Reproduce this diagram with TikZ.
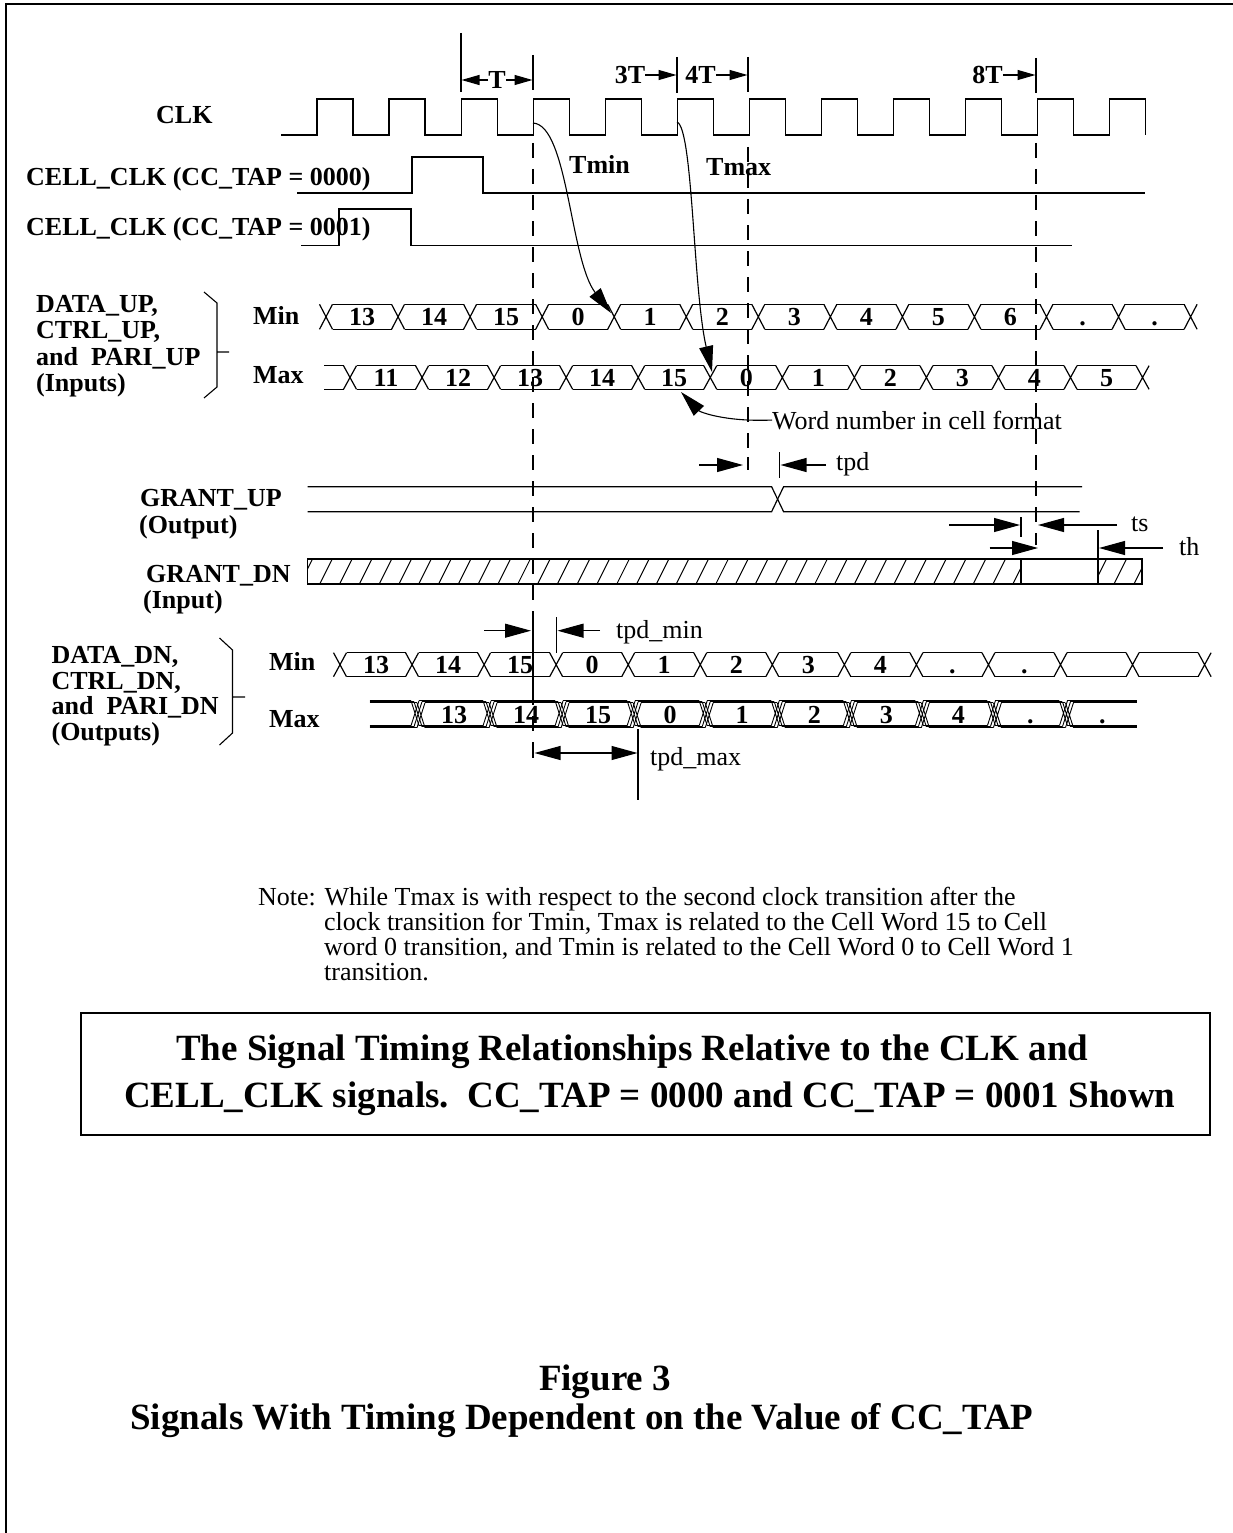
\documentclass[tikz,border=0pt]{standalone}
\usepackage{fontspec}
\setmainfont{Liberation Serif}
\usetikzlibrary{arrows.meta}
\begin{document}
\begin{tikzpicture}[x=1pt,y=-1pt,
  wave/.style={line width=1.2pt},
  thinwave/.style={line width=0.9pt},
  dashln/.style={line width=1.1pt, dash pattern=on 15pt off 11pt},
  solidln/.style={line width=1.1pt},
  bigarr/.style={line width=1.1pt,-{Triangle[length=26pt,width=14pt]}},
  smallarr/.style={line width=1.1pt,-{Triangle[length=18pt,width=10pt]}},
  lbl/.style={font=\fontsize{26}{28}\selectfont\bfseries, anchor=base west, inner sep=0pt},
  txt/.style={font=\fontsize{26}{28}\selectfont, anchor=base west, inner sep=0pt},
  num/.style={font=\fontsize{26}{28}\selectfont\bfseries, inner sep=0pt, text height=17.6pt, text depth=0pt},
  topmk/.style={font=\fontsize{26}{28}\selectfont\bfseries, inner sep=0pt, text height=17.2pt, text depth=0pt},
  ttl/.style={font=\fontsize{37}{40}\selectfont\bfseries, inner sep=0pt},
]
\useasboundingbox (0,0) rectangle (1233,1533);
% frame
\draw[line width=2.5pt] (6,1533) -- (6,4) -- (1233,4);

% ---------- top markers ----------
\draw[solidln] (461,33) -- (461,92);
\draw[solidln] (533,55) -- (533,90);
\draw[solidln] (677,57) -- (677,93);
\draw[solidln] (748,57) -- (748,92);
\draw[solidln] (1036,58) -- (1036,93);
\node[topmk] (tT) at (497,80) {T};
\draw[smallarr] (tT.west) -- (461.5,80);
\draw[smallarr] (tT.east) -- (532.5,80);
\node[topmk] (t3T) at (630,75) {3T};
\draw[smallarr] (t3T.east) -- (676.5,75);
\node[topmk] (t4T) at (700.5,75) {4T};
\draw[smallarr] (t4T.east) -- (747.5,75);
\node[topmk] (t8T) at (987.5,75) {8T};
\draw[smallarr] (t8T.east) -- (1035.5,75);

% ---------- CLK ----------
\node[lbl] (clk) at (156,124) {CLK};
\draw[wave] (281,135) foreach \k in {0,...,11}{ -- ({317+72.05*\k},135) -- ({317+72.05*\k},99) -- ({353+72.05*\k},99) -- ({353+72.05*\k},135)};

% ---------- CELL_CLK ----------
\node[lbl] (cc0) at (26,185.6) {CELL\_CLK (CC\_TAP = 0000)};
\draw[wave] (297,193) -- (412,193) -- (412,157) -- (483,157) -- (483,193) -- (1145,193);
\node[lbl] (cc1) at (26,235.6) {CELL\_CLK (CC\_TAP = 0001)};
\draw[wave] (301,245.7) -- (339,245.7) -- (339,209) -- (411,209) -- (411,245.7) -- (1071.5,245.7);

% ---------- dashed reference lines ----------
\draw[dashln] (533,143) -- (533,612);
\draw[solidln] (533,612) -- (533,690);
\draw[dashln] (533,690) -- (533,745);
\draw[solidln] (533,745) -- (533,758);
\draw[dashln] (748,147) -- (748,457);
\draw[solidln] (748,457) -- (748,470);
\draw[dashln] (1036,143) -- (1036,545);

\node[lbl] (tmin) at (569,174) {Tmin};
\node[lbl] (tmax) at (706,176) {Tmax};

% ---------- DATA_UP ----------
\node[lbl] (du1) at (36,312) {DATA\_UP,};
\node[lbl] (du2) at (36,338.5) {CTRL\_UP,};
\node[lbl] (du3) at (36,365) {and\ \ PARI\_UP};
\node[lbl] (du4) at (36,391.5) {(Inputs)};
\draw[solidln] (204,292) -- (217,303) -- (217,387) -- (204,398) (217,352) -- (229,352);
\node[lbl] (umin) at (253,324.6) {Min};
\node[lbl] (umax) at (253,383.6) {Max};

% Min row (up)
\foreach \k in {0,...,12}{
  \pgfmathsetmacro\t{326+72.05*\k}
  \draw[wave] ({\t-6.5},304.3) -- ({\t+6.5},329.3) ({\t-6.5},329.3) -- ({\t+6.5},304.3);
}
\foreach \k/\lab in {0/13,1/14,2/15,3/0,4/1,5/2,6/3,7/4,8/5,9/6,10/.,11/.}{
  \pgfmathsetmacro\a{326+72.05*\k+6.5}
  \pgfmathsetmacro\b{326+72.05*(\k+1)-6.5}
  \draw[wave] (\a,304.3) -- (\b,304.3) (\a,329.3) -- (\b,329.3);
  \node[num] (mu\k) at ({326+72.05*\k+36},316.8) {\lab};
}
% Max row (up)
\draw[wave] (324,365.7) -- (343.5,365.7) (324,389.3) -- (343.5,389.3);
\foreach \k in {0,...,11}{
  \pgfmathsetmacro\t{350+72.05*\k}
  \draw[wave] ({\t-6.5},365.7) -- ({\t+6.5},389.3) ({\t-6.5},389.3) -- ({\t+6.5},365.7);
}
\foreach \k/\lab in {0/11,1/12,2/13,3/14,4/15,5/0,6/1,7/2,8/3,9/4,10/5}{
  \pgfmathsetmacro\a{350+72.05*\k+6.5}
  \pgfmathsetmacro\b{350+72.05*(\k+1)-6.5}
  \draw[wave] (\a,365.7) -- (\b,365.7) (\a,389.3) -- (\b,389.3);
  \node[num] (xu\k) at ({350+72.05*\k+36},377.5) {\lab};
}

% Tmin / Tmax curves
\draw[bigarr] (533,123) .. controls (568,125) and (570,260) .. (611,313);
\draw[bigarr] (677,122) .. controls (693,128) and (693,290) .. (712,372);
\node[txt] (wn) at (772,429) {Word number in cell format};
\draw[bigarr] (wn.west) .. controls (725,422) and (700,412) .. (681,392);

% ---------- GRANT_UP ----------
\node[lbl] (gu1) at (140,506.6) {GRANT\_UP};
\node[lbl] (gu2) at (139,533.5) {(Output)};
\draw[wave] (307.6,486.7) -- (771.6,486.7) -- (783.6,511.7) -- (1079.6,511.7);
\draw[wave] (307.6,511.7) -- (771.6,511.7) -- (783.6,486.7) -- (1082,486.7);
\draw[bigarr] (699,465) -- (743,465);
\draw[solidln] (779.6,452) -- (779.6,478);
\draw[bigarr] (826,465) -- (780.5,465);
\node[txt] (tpd) at (836,470.7) {tpd};

% ---------- GRANT_DN ----------
\node[lbl] (gd1) at (146,582) {GRANT\_DN};
\node[lbl] (gd2) at (143,608.5) {(Input)};
\begin{scope}
  \clip (307.6,559) rectangle (1021,584);
  \foreach \x in {300,319.8,...,1040}{\draw[line width=1pt] (\x,584) -- ({\x+12.5},559);}
\end{scope}
\begin{scope}
  \clip (1098,559) rectangle (1142,584);
  \foreach \x in {1094,1114,...,1150}{\draw[line width=1pt] (\x,584) -- ({\x+12.5},559);}
\end{scope}
\draw[wave] (307.6,559) rectangle (1142,584);
\draw[wave] (1021,559) -- (1021,584) (1098,559) -- (1098,584);
\draw[bigarr] (949,525) -- (1020,525);
\draw[solidln] (1021,517) -- (1021,537);
\draw[bigarr] (1117,525) -- (1038,525);
\node[txt] (ts) at (1131,531.7) {ts};
\draw[bigarr] (989.6,548) -- (1038,548);
\draw[solidln] (1098,530) -- (1098,559);
\draw[bigarr] (1163,548) -- (1099,548);
\node[txt] (th) at (1179,555) {th};

% ---------- DATA_DN ----------
\node[lbl] (dd1) at (51.4,663.6) {DATA\_DN,};
\node[lbl] (dd2) at (51.4,689) {CTRL\_DN,};
\node[lbl] (dd3) at (51.4,714.6) {and\ \ PARI\_DN};
\node[lbl] (dd4) at (51.4,740) {(Outputs)};
\draw[solidln] (219.5,638) -- (232.5,650) -- (232.5,733) -- (219.5,745) (232.5,697) -- (245,697);
\node[lbl] (dmin) at (269,670.3) {Min};
\node[lbl] (dmax) at (269,727.6) {Max};

\draw[bigarr] (484,630.7) -- (531,630.7);
\draw[solidln] (556.7,617) -- (556.7,652.7);
\draw[bigarr] (600,630.7) -- (557.5,630.7);
\node[txt] (tpdmin) at (616,638.3) {tpd\_min};

% Min row (dn)
\foreach \k in {0,...,12}{
  \pgfmathsetmacro\t{340+72.05*\k}
  \draw[wave] ({\t-6.5},652.7) -- ({\t+6.5},676.7) ({\t-6.5},676.7) -- ({\t+6.5},652.7);
}
\foreach \k/\lab in {0/13,1/14,2/15,3/0,4/1,5/2,6/3,7/4,8/.,9/.,10/{},11/{}}{
  \pgfmathsetmacro\a{340+72.05*\k+6.5}
  \pgfmathsetmacro\b{340+72.05*(\k+1)-6.5}
  \draw[wave] (\a,652.7) -- (\b,652.7) (\a,676.7) -- (\b,676.7);
  \node[num] (md\k) at ({340+72.05*\k+36},664.7) {\lab};
}
% Max row (dn), triple transitions
\foreach \dx/\dy in {-3/-1,0/0,3/1}{
  \draw[thinwave] (369.7,{701.7+\dy}) -- ({418-4+\dx},{701.7+\dy}) (369.7,{726.7+\dy}) -- ({418-4+\dx},{726.7+\dy});
  \foreach \k in {0,...,9}{
    \pgfmathsetmacro\t{418+72.05*\k+\dx}
    \pgfmathsetmacro\b{ifthenelse(\k==9,1137,418+72.05*(\k+1)-4+\dx)}
    \draw[thinwave] ({\t-4},{701.7+\dy}) -- ({\t+4},{726.7+\dy}) ({\t-4},{726.7+\dy}) -- ({\t+4},{701.7+\dy});
    \draw[thinwave] ({\t+4},{701.7+\dy}) -- (\b,{701.7+\dy}) ({\t+4},{726.7+\dy}) -- (\b,{726.7+\dy});
  }
}
\foreach \k/\lab in {0/13,1/14,2/15,3/0,4/1,5/2,6/3,7/4,8/.,9/.}{
  \node[num] (xd\k) at ({418+72.05*\k+36},714.2) {\lab};
}

\draw[line width=1.1pt,{Triangle[length=26pt,width=14pt]}-{Triangle[length=26pt,width=14pt]}] (534.5,753) -- (637.5,753);
\draw[solidln] (638,729) -- (638,800);
\node[txt] (tpdmax) at (650,765) {tpd\_max};

% ---------- note ----------
\node[txt] (n1) at (258,905) {Note: While Tmax is with respect to the second clock transition after the};
\node[txt] (n2) at (324,930) {clock transition for Tmin, Tmax is related to the Cell Word 15 to Cell};
\node[txt] (n3) at (324,955) {word 0 transition, and Tmin is related to the Cell Word 0 to Cell Word 1};
\node[txt] (n4) at (324,980) {transition.};

% ---------- title box ----------
\draw[line width=2.5pt] (81,1013) rectangle (1210,1135);
\node[ttl,anchor=base west] (ti1) at (176,1060) {The Signal Timing Relationships Relative to the CLK and};
\node[ttl,anchor=base west] (ti2) at (124,1107) {CELL\_CLK signals.\ \ CC\_TAP = 0000 and CC\_TAP = 0001 Shown};

% ---------- figure caption ----------
\node[ttl,anchor=base] (fig1) at (605,1390) {Figure 3};
\node[ttl,anchor=base] (fig2) at (582,1429) {Signals With Timing Dependent on the Value of CC\_TAP};
\end{tikzpicture}
\end{document}
